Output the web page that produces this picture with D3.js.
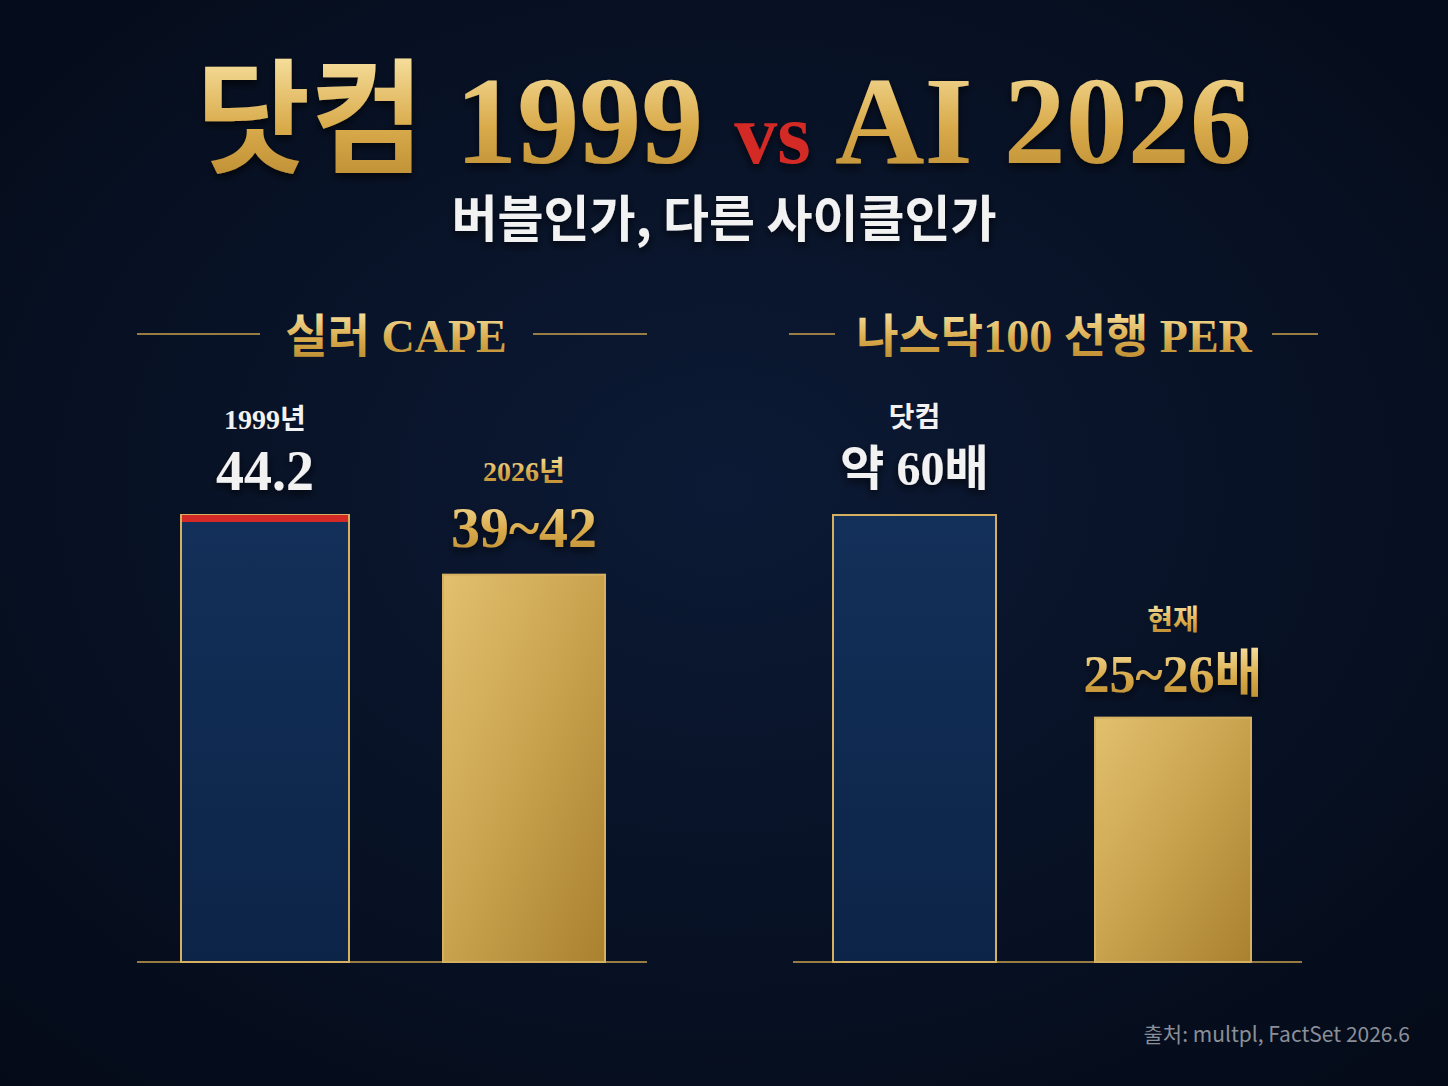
<!DOCTYPE html>
<html><head><meta charset="utf-8">
<script src="https://cdn.jsdelivr.net/npm/d3@7"></script>
<style>
body{margin:0;background:#060d1d;}
svg{display:block;}
</style></head>
<body>
<svg id="chart" width="1448" height="1086"></svg>
<script>
// data
const capeNames = ["1999년", "2026년"];
const capeLabels = ["44.2", "39~42"];
const capeValues = [44.2, 38.3]; // bar heights as drawn
const perNames = ["닷컴", "현재"];
const perLabels = ["약 60배", "25~26배"];
const perValues = [60, 32.8];

const W = 1448, H = 1086;
const svg = d3.select("#chart");
const serif = "'Liberation Serif','DejaVu Serif','Noto Sans CJK KR',serif";
const sans = "'Noto Sans CJK KR','Noto Sans',sans-serif";

const defs = svg.append("defs");
const bg = defs.append("radialGradient").attr("id", "bg").attr("cx", "50%").attr("cy", "45%").attr("r", "75%");
bg.append("stop").attr("offset", "0%").attr("stop-color", "#0c1a35");
bg.append("stop").attr("offset", "100%").attr("stop-color", "#040a17");

const goldText = defs.append("linearGradient").attr("id", "goldText").attr("x1", 0).attr("y1", 0).attr("x2", 0).attr("y2", 1);
goldText.append("stop").attr("offset", "0%").attr("stop-color", "#f7e1a0");
goldText.append("stop").attr("offset", "55%").attr("stop-color", "#d9aa4a");
goldText.append("stop").attr("offset", "100%").attr("stop-color", "#b98a30");

const goldBar = defs.append("linearGradient").attr("id", "goldBar").attr("x1", 0).attr("y1", 0).attr("x2", 1).attr("y2", 1);
goldBar.append("stop").attr("offset", "0%").attr("stop-color", "#e2c06e");
goldBar.append("stop").attr("offset", "50%").attr("stop-color", "#c9a24e");
goldBar.append("stop").attr("offset", "100%").attr("stop-color", "#a9812f");

const navyBar = defs.append("linearGradient").attr("id", "navyBar").attr("x1", 0).attr("y1", 0).attr("x2", 0).attr("y2", 1);
navyBar.append("stop").attr("offset", "0%").attr("stop-color", "#13305a");
navyBar.append("stop").attr("offset", "100%").attr("stop-color", "#0c2447");

const divGrad = defs.append("linearGradient").attr("id", "divGrad").attr("x1", 0).attr("y1", 0).attr("x2", 0).attr("y2", 1);
divGrad.append("stop").attr("offset", "0%").attr("stop-color", "#c9a24e").attr("stop-opacity", 0.1);
divGrad.append("stop").attr("offset", "50%").attr("stop-color", "#f5d98a").attr("stop-opacity", 0.9);
divGrad.append("stop").attr("offset", "100%").attr("stop-color", "#c9a24e").attr("stop-opacity", 0.1);

const shadow = defs.append("filter").attr("id", "shadow").attr("x", "-10%").attr("y", "-20%").attr("width", "120%").attr("height", "150%");
shadow.append("feDropShadow").attr("dx", 0).attr("dy", 4).attr("stdDeviation", 4).attr("flood-color", "#000").attr("flood-opacity", 0.7);

svg.append("rect").attr("width", W).attr("height", H).attr("fill", "url(#bg)");

// title
const title = svg.append("text").attr("x", W / 2).attr("y", 163).attr("text-anchor", "middle")
  .attr("font-family", serif).attr("font-weight", "bold").attr("font-size", 124).attr("filter", "url(#shadow)");
title.append("tspan").text("닷컴 1999 ").attr("fill", "url(#goldText)");
title.append("tspan").text("vs").attr("fill", "#d42a26").attr("font-size", 86);
title.append("tspan").text(" AI 2026").attr("fill", "url(#goldText)");

svg.append("text").attr("x", W / 2).attr("y", 237).attr("text-anchor", "middle")
  .attr("font-family", sans).attr("font-weight", "bold").attr("font-size", 50)
  .attr("fill", "#f2f2f2").attr("filter", "url(#shadow)").text("버블인가, 다른 사이클인가");

// divider
svg.append("line").attr("x1", 724).attr("x2", 724).attr("y1", 335).attr("y2", 962)
  .attr("stroke", "url(#divGrad)").attr("stroke-width", 1.5);

const baseY = 962;
const y = d3.scaleLinear().domain([0, 44.2]).range([baseY, 515]);
const y2 = d3.scaleLinear().domain([0, 60]).range([baseY, 515]);

function header(text, cx, l1, l2) {
  svg.append("text").attr("x", cx).attr("y", 352).attr("text-anchor", "middle")
    .attr("font-family", serif).attr("font-weight", "bold").attr("font-size", 46)
    .attr("fill", "url(#goldText)").text(text);
  [l1, l2].forEach(l => svg.append("line").attr("x1", l[0]).attr("x2", l[1]).attr("y1", 334).attr("y2", 334)
    .attr("stroke", "#c9a24e").attr("stroke-width", 1.5));
}

function panel(names, labels, values, scale, xs, ws, baseX, opts) {
  svg.append("line").attr("x1", baseX[0]).attr("x2", baseX[1]).attr("y1", baseY).attr("y2", baseY)
    .attr("stroke", "#c9a24e").attr("stroke-width", 1.5);
  values.forEach((v, i) => {
    const top = scale(v);
    svg.append("rect").attr("x", xs[i]).attr("y", top).attr("width", ws[i]).attr("height", baseY - top)
      .attr("fill", i === 0 ? "url(#navyBar)" : "url(#goldBar)")
      .attr("stroke", "#d4b060").attr("stroke-width", 2);
    if (i === 0 && opts.red) {
      svg.append("rect").attr("x", xs[i] + 1).attr("y", top).attr("width", ws[i] - 2).attr("height", 7).attr("fill", "#d42a26");
    }
    const cx = xs[i] + ws[i] / 2;
    const fill = i === 0 ? "#f2f2f2" : "url(#goldText)";
    svg.append("text").attr("x", cx).attr("y", top - opts.nameOff[i]).attr("text-anchor", "middle")
      .attr("font-family", serif).attr("font-weight", "bold").attr("font-size", 28).attr("fill", fill).text(names[i]);
    svg.append("text").attr("x", cx).attr("y", top - opts.valOff[i]).attr("text-anchor", "middle")
      .attr("font-family", serif).attr("font-weight", "bold").attr("font-size", opts.valSize[i])
      .attr("fill", fill).attr("filter", "url(#shadow)").text(labels[i]);
  });
}

header("실러 CAPE", 396, [137, 260], [533, 647]);
panel(capeNames, capeLabels, capeValues, y, [181, 443], [168, 162], [137, 647],
  { red: true, nameOff: [86, 94], valOff: [25, 28], valSize: [56, 58] });

header("나스닥100 선행 PER", 1054, [789, 835], [1272, 1318]);
panel(perNames, perLabels, perValues, y2, [833, 1095], [163, 156], [793, 1302],
  { red: false, nameOff: [88, 88], valOff: [30, 26], valSize: [48, 52] });

svg.append("text").attr("x", 1410).attr("y", 1042).attr("text-anchor", "end")
  .attr("font-family", sans).attr("font-size", 21).attr("fill", "#8a8f99")
  .text("출처: multpl, FactSet 2026.6");
</script>
</body></html>
